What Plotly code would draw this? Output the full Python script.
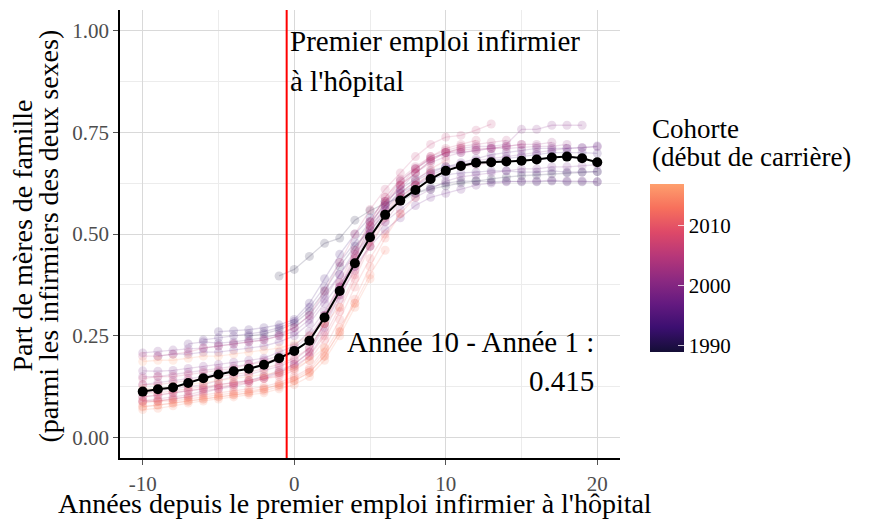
import plotly.graph_objects as go

# ---------------- data ----------------
mean_t = list(range(-10, 21))
mean_share = [0.113, 0.119, 0.123, 0.134, 0.146, 0.155, 0.163, 0.169, 0.179, 0.195,
              0.213, 0.238, 0.295, 0.360, 0.428, 0.492, 0.547, 0.582, 0.608, 0.635, 0.655,
              0.667, 0.675, 0.676, 0.678, 0.680, 0.683, 0.688, 0.690, 0.686, 0.676]

cohort_years = [1989, 1991, 1993, 1994, 1995, 1997, 1998, 1999, 2000, 2001, 2002, 2003, 2004, 2005,
                2006, 2007, 2008, 2009, 2010, 2011, 2012, 2013, 2014, 2015, 2016, 2017]
cohort_first_t = [-1, -3, -5, -6, -7, -9] + [-10] * 20

coh_1989 = [0.397, 0.413, 0.445, 0.477, 0.490, 0.534, 0.557, 0.575, 0.590, 0.600, 0.610,
            0.618, 0.625, 0.630, 0.635, 0.640, 0.643, 0.645, 0.648, 0.650, 0.652, 0.653]
coh_1991 = [0.250, 0.255, 0.265, 0.280, 0.310, 0.360, 0.420, 0.470, 0.510, 0.550, 0.580, 0.600,
            0.615, 0.625, 0.630, 0.630, 0.628, 0.630, 0.628, 0.628, 0.630, 0.628, 0.628, 0.628]
coh_1993 = [0.260, 0.262, 0.265, 0.270, 0.277, 0.290, 0.330, 0.390, 0.450, 0.500, 0.540, 0.580, 0.610,
            0.635, 0.655, 0.665, 0.670, 0.675, 0.680, 0.685, 0.690, 0.695, 0.700, 0.700, 0.700, 0.698]
coh_1994 = [0.240, 0.245, 0.250, 0.255, 0.260, 0.270, 0.285, 0.320, 0.370, 0.430, 0.480, 0.530, 0.570, 0.600,
            0.620, 0.635, 0.645, 0.650, 0.652, 0.655, 0.655, 0.652, 0.652, 0.655, 0.652, 0.652, 0.653]
coh_1995 = [0.230, 0.235, 0.232, 0.235, 0.240, 0.245, 0.255, 0.270, 0.300, 0.350, 0.400, 0.460, 0.520, 0.560,
            0.600, 0.630, 0.650, 0.665, 0.675, 0.685, 0.695, 0.700, 0.705, 0.710, 0.710, 0.710, 0.712, 0.716]
coh_1997 = [0.200, 0.205, 0.205, 0.210, 0.210, 0.215, 0.220, 0.225, 0.235, 0.250, 0.280, 0.330, 0.380, 0.420, 0.470,
            0.510, 0.540, 0.570, 0.590, 0.600, 0.610, 0.620, 0.625, 0.628, 0.630, 0.630, 0.632, 0.630, 0.630, 0.628]
coh_1998 = [0.208, 0.212, 0.215, 0.218, 0.220, 0.225, 0.230, 0.235, 0.240, 0.250, 0.260, 0.290, 0.340, 0.400, 0.450,
            0.500, 0.530, 0.560, 0.590, 0.610, 0.630, 0.640, 0.645, 0.650, 0.655, 0.660, 0.660, 0.665, 0.665, 0.667, 0.670]
coh_1999 = [0.164, 0.163, 0.165, 0.170, 0.175, 0.180, 0.185, 0.190, 0.195, 0.210, 0.225, 0.260, 0.310, 0.370, 0.430, 0.490,
            0.550, 0.590, 0.620, 0.645, 0.660, 0.670, 0.680, 0.685, 0.690, 0.695, 0.700, 0.705, 0.710, 0.712, 0.714]
coh_2000 = [0.130, 0.135, 0.140, 0.145, 0.150, 0.160, 0.165, 0.170, 0.180, 0.190, 0.210, 0.240, 0.300, 0.360, 0.430,
            0.500, 0.560, 0.610, 0.650, 0.680, 0.700, 0.710, 0.715, 0.715, 0.720, 0.757, 0.757, 0.767, 0.767, 0.767]
coh_2001 = [0.150, 0.150, 0.155, 0.160, 0.165, 0.170, 0.175, 0.180, 0.190, 0.200, 0.220, 0.250, 0.300, 0.370, 0.440,
            0.520, 0.580, 0.630, 0.660, 0.685, 0.700, 0.700, 0.705, 0.710, 0.710, 0.712, 0.715, 0.715, 0.720]
coh_2002 = [0.100, 0.104, 0.110, 0.115, 0.120, 0.130, 0.135, 0.140, 0.150, 0.160, 0.180, 0.210, 0.270, 0.350,
            0.430, 0.510, 0.570, 0.620, 0.650, 0.675, 0.690, 0.700, 0.705, 0.710, 0.715, 0.720, 0.720, 0.725]
coh_2003 = [0.110, 0.115, 0.120, 0.125, 0.130, 0.140, 0.150, 0.155, 0.165, 0.175, 0.190, 0.220, 0.280, 0.350,
            0.410, 0.470, 0.530, 0.580, 0.620, 0.640, 0.655, 0.665, 0.670, 0.675, 0.680, 0.680, 0.685]
coh_2004 = [0.089, 0.090, 0.095, 0.100, 0.110, 0.120, 0.125, 0.135, 0.145, 0.160, 0.175, 0.200, 0.260,
            0.340, 0.420, 0.500, 0.570, 0.620, 0.660, 0.685, 0.700, 0.705, 0.710, 0.710, 0.715, 0.720]
coh_2005 = [0.090, 0.095, 0.100, 0.105, 0.115, 0.120, 0.130, 0.140, 0.150, 0.165, 0.180, 0.210, 0.280,
            0.370, 0.450, 0.530, 0.590, 0.635, 0.665, 0.690, 0.705, 0.715, 0.720, 0.725, 0.730]
coh_2006 = [0.200, 0.200, 0.205, 0.210, 0.220, 0.225, 0.230, 0.235, 0.240, 0.250, 0.270, 0.300,
            0.360, 0.430, 0.500, 0.560, 0.610, 0.650, 0.690, 0.720, 0.738, 0.742, 0.755, 0.770]
coh_2007 = [0.145, 0.150, 0.150, 0.155, 0.160, 0.165, 0.170, 0.180, 0.185, 0.195, 0.210, 0.240,
            0.300, 0.380, 0.460, 0.530, 0.590, 0.630, 0.660, 0.690, 0.710, 0.720, 0.730]
coh_2008 = [0.130, 0.130, 0.135, 0.140, 0.145, 0.150, 0.155, 0.160, 0.170, 0.180, 0.195,
            0.220, 0.280, 0.360, 0.440, 0.520, 0.580, 0.620, 0.650, 0.680, 0.700, 0.710]
coh_2009 = [0.100, 0.105, 0.110, 0.115, 0.120, 0.125, 0.130, 0.135, 0.145, 0.155, 0.170,
            0.200, 0.250, 0.320, 0.400, 0.480, 0.550, 0.600, 0.630, 0.660, 0.680]
coh_2010 = [0.110, 0.110, 0.115, 0.120, 0.125, 0.130, 0.135, 0.140, 0.145, 0.150,
            0.165, 0.190, 0.240, 0.310, 0.390, 0.470, 0.540, 0.590, 0.620, 0.650]
coh_2011 = [0.090, 0.090, 0.095, 0.100, 0.105, 0.110, 0.115, 0.120, 0.125, 0.135,
            0.150, 0.170, 0.220, 0.290, 0.370, 0.440, 0.500, 0.550, 0.590]
coh_2012 = [0.077, 0.080, 0.085, 0.090, 0.095, 0.100, 0.105, 0.110, 0.115,
            0.125, 0.140, 0.160, 0.200, 0.260, 0.340, 0.420, 0.490, 0.550]
coh_2013 = [0.085, 0.090, 0.090, 0.095, 0.100, 0.105, 0.110, 0.115, 0.120,
            0.130, 0.145, 0.165, 0.210, 0.270, 0.330, 0.400, 0.460]
coh_2014 = [0.069, 0.072, 0.078, 0.085, 0.090, 0.095, 0.100, 0.105,
            0.110, 0.120, 0.130, 0.150, 0.190, 0.250, 0.320, 0.390]
coh_2015 = [0.075, 0.080, 0.085, 0.090, 0.095, 0.100, 0.105, 0.110,
            0.120, 0.130, 0.140, 0.160, 0.200, 0.260, 0.330]
coh_2016 = [0.187, 0.190, 0.190, 0.195, 0.200, 0.200, 0.205,
            0.210, 0.215, 0.220, 0.230, 0.250, 0.280, 0.320]
coh_2017 = [0.120, 0.120, 0.125, 0.130, 0.135, 0.140, 0.145,
            0.150, 0.155, 0.160, 0.170, 0.190, 0.220]

cohort_values = [coh_1989, coh_1991, coh_1993, coh_1994, coh_1995, coh_1997, coh_1998, coh_1999,
                 coh_2000, coh_2001, coh_2002, coh_2003, coh_2004, coh_2005, coh_2006, coh_2007,
                 coh_2008, coh_2009, coh_2010, coh_2011, coh_2012, coh_2013, coh_2014, coh_2015,
                 coh_2016, coh_2017]

x_ticks = [-10, 0, 10, 20]
x_tick_labels = ["-10", "0", "10", "20"]
y_ticks = [0.0, 0.25, 0.5, 0.75, 1.0]
y_tick_labels = ["0.00", "0.25", "0.50", "0.75", "1.00"]
cbar_ticks = [1990, 2000, 2010]
cohort_min, cohort_max = 1989, 2017
diff_label = "0.415"

# ---------------- style ----------------
FONT = "Liberation Serif"
# the page body has an 8px margin: the figure is shrunk by it so it fits the window
OFF = 8
W, H = 876 - OFF, 519 - OFF
PL, PR, PT, PB = 120.3, 619.7, 9.6, 458.4          # plot area, in reference pixels
PW, PH = PR - PL, PB - PT


def px(xr):
    return (xr - PL) / PW


def py(yr):
    return (PB - yr) / PH


magma_stops = ["#140E36", "#3B0F70", "#641A80", "#8C2981", "#B73779", "#DE4968", "#F7705C", "#FE9F6D"]
colorscale = [[i / (len(magma_stops) - 1), c] for i, c in enumerate(magma_stops)]


def hex2rgb(h):
    h = h.lstrip("#")
    return tuple(int(h[i:i + 2], 16) for i in (0, 2, 4))


def cohort_color(year, alpha):
    f = (year - cohort_min) / (cohort_max - cohort_min)
    f = min(max(f, 0), 1) * (len(magma_stops) - 1)
    i = min(int(f), len(magma_stops) - 2)
    r = f - i
    a, b = hex2rgb(magma_stops[i]), hex2rgb(magma_stops[i + 1])
    c = [round(a[k] + (b[k] - a[k]) * r) for k in range(3)]
    return f"rgba({c[0]},{c[1]},{c[2]},{alpha})"


fig = go.Figure()

for yr, t0, vals in zip(cohort_years, cohort_first_t, cohort_values):
    xs = list(range(t0, t0 + len(vals)))
    col = cohort_color(yr, 0.16)
    fig.add_trace(go.Scatter(x=xs, y=vals, mode="lines+markers",
                             line=dict(color=col, width=1.3),
                             marker=dict(color=col, size=9),
                             showlegend=False, hoverinfo="skip"))

fig.add_trace(go.Scatter(x=mean_t, y=mean_share, mode="lines+markers",
                         line=dict(color="black", width=2),
                         marker=dict(color="black", size=10),
                         showlegend=False))

# colorbar carrier
fig.add_trace(go.Scatter(x=[None], y=[None], mode="markers", showlegend=False,
                         marker=dict(color=[cohort_min], cmin=cohort_min, cmax=cohort_max,
                                     colorscale=colorscale, showscale=True,
                                     colorbar=dict(x=px(650), xanchor="left", xpad=0,
                                                   y=py(268), yanchor="middle", ypad=0,
                                                   len=168, lenmode="pixels",
                                                   thickness=34, thicknessmode="pixels",
                                                   outlinewidth=0,
                                                   tickvals=cbar_ticks,
                                                   ticktext=[str(v) for v in cbar_ticks],
                                                   tickprefix="\u00a0\u00a0\u00a0",
                                                   ticks="inside", ticklen=6,
                                                   tickcolor="rgba(255,255,255,0.75)",
                                                   tickfont=dict(family=FONT, size=21, color="black")))))

fig.add_shape(type="line", xref="x", yref="paper", x0=-0.5, x1=-0.5, y0=0, y1=1,
              line=dict(color="red", width=2), layer="above")

axis_common = dict(showline=True, linecolor="black", linewidth=1.6,
                   ticks="outside", ticklen=5, tickcolor="#555555", tickwidth=1,
                   gridcolor="#d9d9d9", gridwidth=1, zeroline=False,
                   tickfont=dict(family=FONT, size=21, color="#4d4d4d"))

fig.update_xaxes(range=[-11.5, 21.5], tickvals=x_ticks, ticktext=x_tick_labels,
                 ticklabelstandoff=1,
                 minor=dict(dtick=5, tick0=-10, showgrid=True, gridcolor="#ececec", gridwidth=0.7),
                 **axis_common)
fig.update_yaxes(range=[-0.05, 1.05], tickvals=y_ticks, ticktext=y_tick_labels,
                 minor=dict(dtick=0.125, tick0=0, showgrid=True, gridcolor="#ececec", gridwidth=0.7),
                 **axis_common)

ann_font = dict(family=FONT, size=29, color="black")
anns = [
    dict(text="Premier emploi infirmier", x=-0.4, y=0.975, xref="x", yref="y",
         xanchor="left", yanchor="middle", showarrow=False, font=ann_font),
    dict(text="à l'hôpital", x=-0.4, y=0.8745, xref="x", yref="y",
         xanchor="left", yanchor="middle", showarrow=False, font=ann_font),
    dict(text="Année 10 - Année 1 :", x=19.9, y=0.236, xref="x", yref="y",
         xanchor="right", yanchor="middle", showarrow=False, font=ann_font),
    dict(text=diff_label, x=19.9, y=0.138, xref="x", yref="y",
         xanchor="right", yanchor="middle", showarrow=False, font=ann_font),
    # x axis title
    dict(text="Années depuis le premier emploi infirmier à l'hôpital",
         x=px(355.5), y=py(504), xref="paper", yref="paper",
         xanchor="center", yanchor="middle", showarrow=False,
         font=dict(family=FONT, size=28, color="black")),
    # y axis title (two lines)
    dict(text="Part de mères de famille", textangle=-90,
         x=px(23), y=py(236), xref="paper", yref="paper",
         xanchor="center", yanchor="middle", showarrow=False, font=dict(family=FONT, size=28, color="black")),
    dict(text="(parmi les infirmiers des deux sexes)", textangle=-90,
         x=px(49), y=py(236), xref="paper", yref="paper",
         xanchor="center", yanchor="middle", showarrow=False, font=dict(family=FONT, size=28, color="black")),
    # legend title
    dict(text="Cohorte", x=px(650), y=py(129),
         xref="paper", yref="paper", xanchor="left", yanchor="middle",
         showarrow=False, font=dict(family=FONT, size=27, color="black")),
    dict(text="(début de carrière)", x=px(650), y=py(157),
         xref="paper", yref="paper", xanchor="left", yanchor="middle",
         showarrow=False, font=dict(family=FONT, size=27, color="black")),
]
fig.update_layout(annotations=anns)

fig.update_layout(width=W, height=H,
                  margin=dict(l=PL - OFF, r=W - (PR - OFF), t=PT - OFF, b=H - (PB - OFF), autoexpand=False),
                  paper_bgcolor="white", plot_bgcolor="white",
                  font=dict(family=FONT, color="black"))

fig.write_html("out.html")
